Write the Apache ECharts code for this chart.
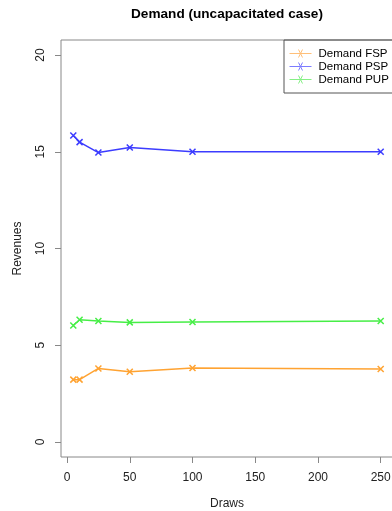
<!DOCTYPE html>
<html>
<head>
<meta charset="utf-8">
<script src="https://cdn.jsdelivr.net/npm/echarts@6/dist/echarts.min.js"></script>
<style>html,body{margin:0;padding:0;background:#fff}#c{width:392px;height:511px}</style>
</head>
<body>
<div id="c"></div>
<script>
const draws = [5, 10, 25, 50, 100, 250];
const demandFSP = [3.22, 3.22, 3.80, 3.63, 3.82, 3.77];
const demandPSP = [15.84, 15.50, 14.96, 15.22, 15.00, 15.00];
const demandPUP = [6.02, 6.32, 6.25, 6.18, 6.20, 6.25];
const xTicks = [0, 50, 100, 150, 200, 250];
const yTicks = [0, 5, 10, 15, 20];
const seriesNames = ['Demand FSP', 'Demand PSP', 'Demand PUP'];
const seriesColors = ['#FFA332', '#3C3CFF', '#46EE46'];
const legendColors = ['#FFBF78', '#7C7CFF', '#86F086'];

const FONT = 'Liberation Sans, Arial, sans-serif';
const X_SYMBOL = 'path://M0,0L10,10M10,0L0,10';
const LEGEND_ICON = 'path://M0,4L22,4M9,1.5L13,6.5M13,1.5L9,6.5';

function mk(name, vals, color) {
  return {
    name: name,
    type: 'line',
    data: draws.map((d, i) => [d, vals[i]]),
    symbol: X_SYMBOL,
    symbolSize: 6,
    lineStyle: { color: color, width: 1.5 },
    itemStyle: { color: 'rgba(0,0,0,0)', borderColor: color, borderWidth: 1.5 },
    emphasis: { disabled: true },
    animation: false
  };
}

const chart = echarts.init(document.getElementById('c'), null, { renderer: 'canvas' });
chart.setOption({
  backgroundColor: '#fff',
  animation: false,
  title: {
    text: 'Demand (uncapacitated case)',
    left: 227, top: 7, textAlign: 'center', padding: 0,
    textStyle: { fontFamily: FONT, fontSize: 13.6, fontWeight: 'bold', color: '#000' }
  },
  legend: {
    left: 284, top: 40,
    orient: 'vertical',
    itemGap: 0,
    itemWidth: 22, itemHeight: 8,
    icon: LEGEND_ICON,
    symbolKeepAspect: false,
    padding: [7, 40, 7, 3],
    borderColor: '#555', borderWidth: 1,
    textStyle: { fontFamily: FONT, fontSize: 11.5, color: '#000', padding: [0, 0, 0, 2], lineHeight: 13 },
    data: seriesNames.map((n, i) => ({
      name: n,
      itemStyle: { color: 'none', borderColor: legendColors[i], borderWidth: 1 }
    }))
  },
  grid: {
    left: 61, top: 40, width: 332, height: 417,
    show: true, borderColor: '#888', borderWidth: 1, backgroundColor: 'transparent',
    outerBoundsMode: 'none', containLabel: false
  },
  xAxis: {
    type: 'value', min: -4.8, max: 259.8,
    name: 'Draws', nameLocation: 'middle', nameGap: 41,
    nameTextStyle: { fontFamily: FONT, fontSize: 12, color: '#222' },
    axisLine: { show: false, onZero: false },
    splitLine: { show: false },
    axisTick: { show: true, inside: false, length: 6, customValues: xTicks, lineStyle: { color: '#888' } },
    axisLabel: { customValues: xTicks, margin: 15, fontFamily: FONT, fontSize: 12, color: '#222' }
  },
  yAxis: {
    type: 'value', min: -0.78, max: 20.78,
    name: 'Revenues', nameLocation: 'middle', nameGap: 37, nameRotate: 90,
    nameTextStyle: { fontFamily: FONT, fontSize: 12, color: '#222' },
    axisLine: { show: false, onZero: false },
    splitLine: { show: false },
    axisTick: { show: true, inside: false, length: 6, customValues: yTicks, lineStyle: { color: '#888' } },
    axisLabel: { customValues: yTicks, rotate: 90, margin: 14, fontFamily: FONT, fontSize: 12, color: '#222' }
  },
  series: [
    mk(seriesNames[0], demandFSP, seriesColors[0]),
    mk(seriesNames[1], demandPSP, seriesColors[1]),
    mk(seriesNames[2], demandPUP, seriesColors[2])
  ]
});
</script>
</body>
</html>
